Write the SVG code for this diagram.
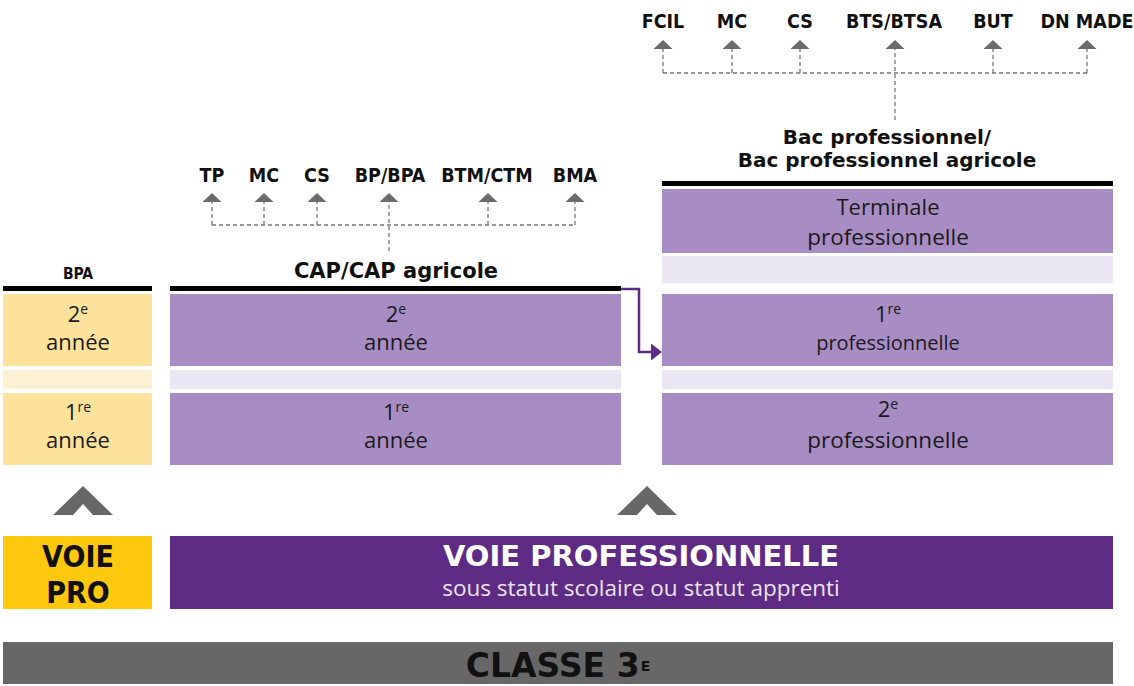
<svg xmlns="http://www.w3.org/2000/svg" width="1134" height="686" viewBox="0 0 1134 686">
<defs>
<style>
.lbl{font-family:"DejaVu Sans Condensed","DejaVu Sans",sans-serif;font-weight:bold;font-size:19.5px;fill:#111;text-anchor:middle}
.head{font-family:"DejaVu Sans",sans-serif;font-weight:bold;font-size:20px;fill:#111;text-anchor:middle}
.box{font-family:"Open Sans",sans-serif;font-size:22px;fill:#1a1a1a;text-anchor:middle}
.sup{font-size:14px}
.bar{fill:#000}
.yl{fill:#fde29c}
.yls{fill:#fef0d2}
.pl{fill:#a78dc4}
.pls{fill:#ebe6f4}
.dash{fill:none;stroke:#777;stroke-width:1.3;stroke-dasharray:4 3}
.chev{fill:#676767}
.vp{font-family:"DejaVu Sans Condensed","DejaVu Sans",sans-serif;font-weight:bold;font-size:30px;fill:#111;text-anchor:middle}
</style>
<marker id="tri" markerUnits="userSpaceOnUse" viewBox="0 0 9 19" refX="0" refY="9.5" markerWidth="9" markerHeight="19" orient="auto">
<path d="M0,0 L9,9.5 L0,19 z" fill="#6b6b6b"/>
</marker>
<marker id="parr" markerUnits="userSpaceOnUse" viewBox="0 0 11 17" refX="0" refY="8.5" markerWidth="11" markerHeight="17" orient="auto">
<path d="M0,0 L11,8.5 L0,17 z" fill="#5d2a84"/>
</marker>
</defs>
<rect width="1134" height="686" fill="#fff"/>

<g id="connectors">
<path class="dash" d="M895,120 V49" marker-end="url(#tri)"/>
<path class="dash" d="M663,73 H1087"/>
<path class="dash" d="M663,73 V49" marker-end="url(#tri)"/>
<path class="dash" d="M732,73 V49" marker-end="url(#tri)"/>
<path class="dash" d="M800,73 V49" marker-end="url(#tri)"/>
<path class="dash" d="M993,73 V49" marker-end="url(#tri)"/>
<path class="dash" d="M1087,73 V49" marker-end="url(#tri)"/>
<path class="dash" d="M389,251 V202" marker-end="url(#tri)"/>
<path class="dash" d="M212,225 H575"/>
<path class="dash" d="M212,225 V202" marker-end="url(#tri)"/>
<path class="dash" d="M264,225 V202" marker-end="url(#tri)"/>
<path class="dash" d="M317,225 V202" marker-end="url(#tri)"/>
<path class="dash" d="M488,225 V202" marker-end="url(#tri)"/>
<path class="dash" d="M575,225 V202" marker-end="url(#tri)"/>
<path d="M621,289 H639 V352 H651" fill="none" stroke="#5d2a84" stroke-width="2.5" marker-end="url(#parr)"/>
</g>

<g id="bac-outputs">
<text class="lbl" x="663" y="28">FCIL</text>
<text class="lbl" x="732" y="28">MC</text>
<text class="lbl" x="800" y="28">CS</text>
<text class="lbl" x="894" y="28">BTS/BTSA</text>
<text class="lbl" x="993" y="28">BUT</text>
<text class="lbl" x="1087" y="28">DN MADE</text>
</g>

<g id="cap-outputs">
<text class="lbl" x="212" y="182">TP</text>
<text class="lbl" x="264" y="182">MC</text>
<text class="lbl" x="317" y="182">CS</text>
<text class="lbl" x="390" y="182">BP/BPA</text>
<text class="lbl" x="487" y="182">BTM/CTM</text>
<text class="lbl" x="575" y="182">BMA</text>
</g>

<g id="bpa">
<text class="lbl" x="78" y="279" style="font-size:15.5px">BPA</text>
<rect class="bar" x="3" y="286" width="149" height="5"/>
<rect class="yl" x="3" y="294" width="149" height="72"/>
<rect class="yls" x="3" y="370" width="149" height="19"/>
<rect class="yl" x="3" y="393" width="149" height="72"/>
<text class="box" x="78" y="322">2<tspan class="sup" dy="-8">e</tspan></text>
<text class="box" x="78" y="350">année</text>
<text class="box" x="78" y="420">1<tspan class="sup" dy="-8">re</tspan></text>
<text class="box" x="78" y="448">année</text>
</g>

<g id="cap">
<text class="head" x="396" y="278" style="font-size:21px">CAP/CAP agricole</text>
<rect class="bar" x="170" y="286" width="451" height="5"/>
<rect class="pl" x="170" y="294" width="451" height="72"/>
<rect class="pls" x="170" y="370" width="451" height="19"/>
<rect class="pl" x="170" y="393" width="451" height="72"/>
<text class="box" x="396" y="322">2<tspan class="sup" dy="-8">e</tspan></text>
<text class="box" x="396" y="350">année</text>
<text class="box" x="396" y="420">1<tspan class="sup" dy="-8">re</tspan></text>
<text class="box" x="396" y="448">année</text>
</g>

<g id="bacpro">
<text class="head" x="887" y="144">Bac professionnel/</text>
<text class="head" x="887" y="167">Bac professionnel agricole</text>
<rect class="bar" x="662" y="181" width="451" height="5"/>
<rect class="pl" x="662" y="189" width="451" height="64"/>
<rect class="pls" x="662" y="256" width="451" height="27"/>
<rect class="pl" x="662" y="294" width="451" height="72"/>
<rect class="pls" x="662" y="370" width="451" height="19"/>
<rect class="pl" x="662" y="393" width="451" height="72"/>
<text class="box" x="888" y="215">Terminale</text>
<text class="box" x="888" y="245" style="font-size:22.5px">professionnelle</text>
<text class="box" x="888" y="322">1<tspan class="sup" dy="-8">re</tspan></text>
<text class="box" x="888" y="350" style="font-size:20px">professionnelle</text>
<text class="box" x="888" y="417">2<tspan class="sup" dy="-8">e</tspan></text>
<text class="box" x="888" y="448" style="font-size:22.5px">professionnelle</text>
</g>

<g id="chevrons">
<polygon class="chev" points="53,515 83,486 113,515 93,515 83,504 73,515"/>
<polygon class="chev" points="617,515 647,486 677,515 657,515 647,504 637,515"/>
</g>

<g id="voie-pro">
<rect x="3" y="536" width="149" height="73" fill="#fec80f"/>
<text class="vp" x="78" y="567">VOIE</text>
<text class="vp" x="78" y="603">PRO</text>
</g>

<g id="voie-professionnelle">
<rect x="170" y="536" width="943" height="73" fill="#5d2a84"/>
<text x="641" y="566" style="font-family:'DejaVu Sans',sans-serif;font-weight:bold;font-size:29px;fill:#fff;text-anchor:middle">VOIE PROFESSIONNELLE</text>
<text x="641" y="596" style="font-family:'Open Sans',sans-serif;font-size:22.5px;fill:#ece4f3;text-anchor:middle">sous statut scolaire ou statut apprenti</text>
</g>

<g id="classe3">
<rect x="3" y="642" width="1110" height="42" fill="#676767"/>
<text x="558" y="677" style="font-family:'DejaVu Sans',sans-serif;font-weight:bold;font-size:33px;fill:#111;text-anchor:middle">CLASSE 3<tspan style="font-size:14px" dx="1" dy="-6">E</tspan></text>
</g>
</svg>
